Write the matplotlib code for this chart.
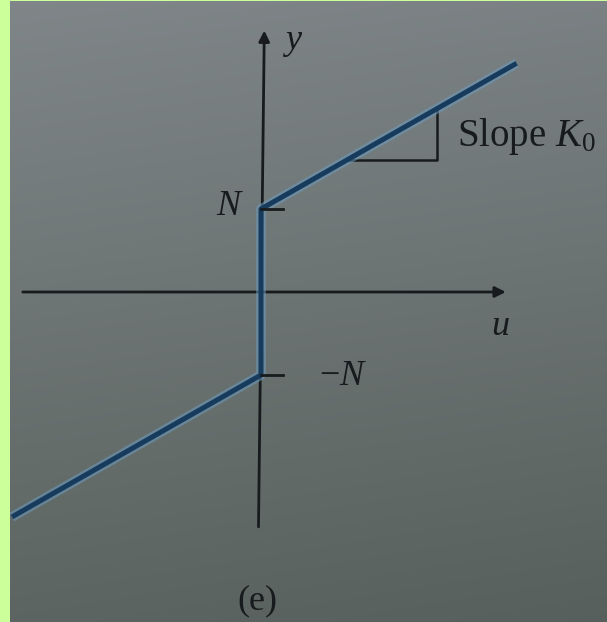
import numpy as np
import matplotlib
matplotlib.use("Agg")
import matplotlib.pyplot as plt

plt.rcParams['font.family'] = ['Liberation Serif', 'DejaVu Serif']
plt.rcParams['mathtext.fontset'] = 'custom'
plt.rcParams['mathtext.rm'] = 'Liberation Serif'
plt.rcParams['mathtext.it'] = 'Liberation Serif:italic'

# relay with dead zone: jump of +-N at u = 0, slope K0 elsewhere
N = 1.0
K0 = 0.57
u_left = -3.0
u_right = 3.08

# axis extents (u and y units)
u_axis = [-2.87, 2.95]
y_axis = [-2.83, 3.15]

# slope triangle corners along the upper branch
tri_u = [1.04, 2.12]

ink = '#171b1d'
line_core = '#173b5c'
line_halo = '#6c9bbf'

fig = plt.figure(figsize=(6.07, 6.22), dpi=100)
fig.patch.set_facecolor('#ccff99')
ax = fig.add_axes([10 / 607, 0, 597 / 607, 621 / 622])
ax.set_xlim(-3.024, 4.169)
ax.set_ylim(-3.976, 3.506)
ax.axis('off')

# photographed page: lighter at the top, darker and greener toward the bottom
gy, gx = np.mgrid[0:1:200j, 0:1:200j]
top = np.array([0.50, 0.525, 0.535])
bot = np.array([0.36, 0.395, 0.38])
bg = top[None, None, :] * (1 - gy[..., None]) + bot[None, None, :] * gy[..., None]
bg = bg - 0.02 * gx[..., None]
ax.imshow(bg, extent=[-3.024, 4.169, -3.976, 3.506], origin='upper',
          aspect='auto', zorder=0)

# coordinate axes with arrowheads
ax.annotate('', xy=(u_axis[1], 0), xytext=(u_axis[0], 0),
            arrowprops=dict(arrowstyle='-|>', lw=2.0, color=ink,
                            mutation_scale=16, shrinkA=0, shrinkB=0), zorder=2)
ax.annotate('', xy=(0.04, y_axis[1]), xytext=(-0.03, y_axis[0]),
            arrowprops=dict(arrowstyle='-|>', lw=2.0, color=ink,
                            mutation_scale=16, shrinkA=0, shrinkB=0), zorder=2)

# characteristic curve
us = np.array([u_left, 0, 0, 0, u_right])
ys = np.array([-N + K0 * u_left, -N, 0, N, N + K0 * u_right])
ax.plot(us, ys, color=line_halo, lw=7, alpha=0.55, solid_capstyle='butt', zorder=3)
ax.plot(us, ys, color=line_core, lw=3.6, solid_capstyle='butt', zorder=4)

# short ticks at +N and -N
for lvl in (N, -N):
    ax.plot([0, 0.26], [lvl, lvl], color=ink, lw=2.0, zorder=5)

# slope triangle
y0 = N + K0 * tri_u[0]
y1 = N + K0 * tri_u[1]
ax.plot([tri_u[0], tri_u[1], tri_u[1]], [y0, y0, y1], color=ink, lw=1.8, zorder=2)

fs = 26
ax.text(0.38, 3.0, r'$y$', fontsize=fs, color=ink, ha='center', va='center')
ax.text(-0.37, 1.03, r'$N$', fontsize=fs, color=ink, ha='center', va='center')
ax.text(0.99, -1.02, r'$-N$', fontsize=fs, color=ink, ha='center', va='center')
ax.text(2.88, -0.42, r'$u$', fontsize=fs, color=ink, ha='center', va='center')
ax.text(2.36, 1.87, r'Slope $K_0$', fontsize=28, color=ink, ha='left', va='center')
ax.text(-0.04, -3.72, '(e)', fontsize=fs, color=ink, ha='center', va='center')

fig.savefig('out.png', dpi=100, facecolor=fig.get_facecolor())
